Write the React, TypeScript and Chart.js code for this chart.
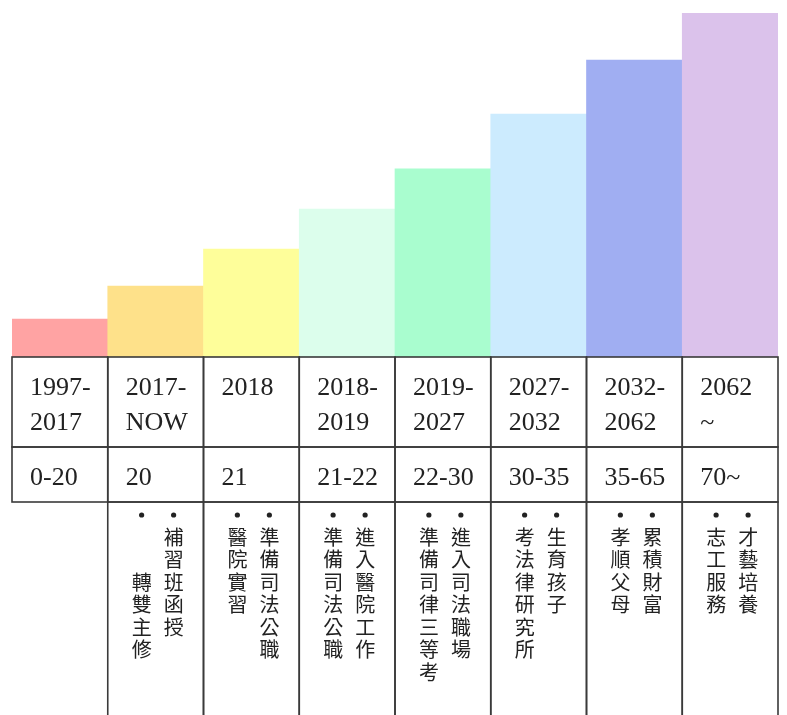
import React, { useEffect, useRef } from "react";
import { Chart, registerables } from "chart.js";

Chart.register(...registerables);

const periods: string[][] = [
  ["1997-", "2017"],
  ["2017-", "NOW"],
  ["2018"],
  ["2018-", "2019"],
  ["2019-", "2027"],
  ["2027-", "2032"],
  ["2032-", "2062"],
  ["2062", "~"],
];
const ages: string[] = ["0-20", "20", "21", "21-22", "22-30", "30-35", "35-65", "70~"];
const levels: number[] = [1.1, 2.06, 3.14, 4.3, 5.47, 7.06, 8.63, 10];
const barColors: string[] = [
  "#FFA3A3",
  "#FEE18A",
  "#FEFE9A",
  "#DCFEEC",
  "#A9FDCF",
  "#CCEBFE",
  "#A0AEF2",
  "#DBC2EB",
];
// each stage: [first item (right line), second item (left line)]
const plans: string[][] = [
  [],
  ["補習班函授", "　　轉雙主修"],
  ["準備司法公職", "醫院實習"],
  ["進入醫院工作", "準備司法公職"],
  ["進入司法職場", "準備司律三等考"],
  ["生育孩子", "考法律研究所"],
  ["累積財富", "孝順父母"],
  ["才藝培養", "志工服務"],
];

const tablePlugin = {
  id: "lifeTable",
  afterDraw(chart: any) {
    const ctx = chart.ctx as CanvasRenderingContext2D;
    const meta = chart.getDatasetMeta(0);
    const top = chart.chartArea.bottom;
    const row1 = top + 90;
    const row2 = top + 145;
    const bottom = chart.height;
    ctx.save();
    ctx.strokeStyle = "#3a3a3a";
    ctx.lineWidth = 1.6;
    meta.data.forEach((bar: any, i: number) => {
      const half = bar.width / 2;
      const l = bar.x - half;
      const r = bar.x + half;
      // rows 1 and 2
      ctx.strokeRect(l, top, r - l, row1 - top);
      ctx.strokeRect(l, row1, r - l, row2 - row1);
      // list row
      if (plans[i].length) {
        ctx.beginPath();
        ctx.moveTo(l, bottom);
        ctx.lineTo(l, row2);
        ctx.lineTo(r, row2);
        ctx.lineTo(r, bottom);
        ctx.stroke();
      }
      // period text
      ctx.fillStyle = "#222";
      ctx.font = '26px "Liberation Serif", serif';
      ctx.textAlign = "left";
      ctx.textBaseline = "alphabetic";
      periods[i].forEach((t, k) => {
        ctx.fillText(t, l + 18, top + 38 + k * 35);
      });
      ctx.fillText(ages[i], l + 18, row1 + 38);
      // vertical plan text
      const cx = bar.x;
      const lineX = [cx + 18, cx - 14];
      plans[i].forEach((t, k) => {
        const x = lineX[k];
        ctx.beginPath();
        ctx.arc(x, row2 + 13, 2.6, 0, Math.PI * 2);
        ctx.fill();
        ctx.font = '20px "Noto Sans CJK TC", sans-serif';
        ctx.textAlign = "center";
        ctx.textBaseline = "middle";
        Array.from(t).forEach((ch, j) => {
          ctx.fillText(ch, x, row2 + 35 + j * 22.5);
        });
      });
    });
    ctx.restore();
  },
};

export default function App() {
  const ref = useRef<HTMLCanvasElement>(null);
  useEffect(() => {
    if (!ref.current) return;
    const chart = new Chart(ref.current, {
      type: "bar",
      data: {
        labels: ages,
        datasets: [
          {
            data: levels,
            backgroundColor: barColors,
            borderWidth: 0,
            categoryPercentage: 1,
            barPercentage: 1,
          },
        ],
      },
      options: {
        animation: false,
        responsive: true,
        maintainAspectRatio: false,
        layout: { padding: { left: 12, right: 9, top: 13, bottom: 358 } },
        plugins: { legend: { display: false }, tooltip: { enabled: false } },
        scales: {
          x: { display: false },
          y: { display: false, min: 0, max: 10 },
        },
      },
      plugins: [tablePlugin],
    });
    return () => chart.destroy();
  }, []);
  return (
    <div style={{ position: "absolute", left: 0, top: 0, width: 787, height: 715, background: "#fff" }}>
      <canvas ref={ref} />
    </div>
  );
}
